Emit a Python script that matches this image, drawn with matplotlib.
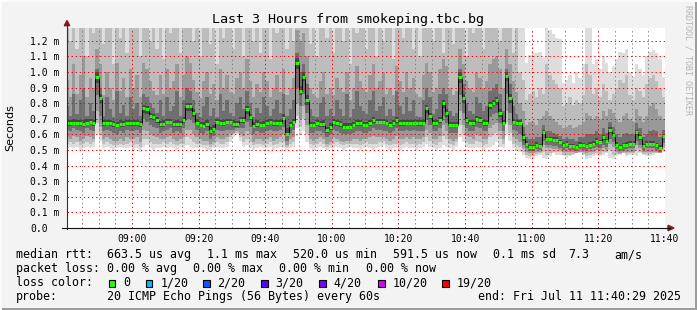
import numpy as np
import matplotlib
matplotlib.use('Agg')
import matplotlib.pyplot as plt
from matplotlib.patches import Rectangle, Polygon
from matplotlib.lines import Line2D

W, H = 697, 310
plt.rcParams['font.family'] = 'DejaVu Sans Mono'

# median rtt (ms), one value per minute from 08:40 to 11:40
median = [
    0.67, 0.67, 0.675, 0.675, 0.67, 0.665, 0.675, 0.68, 0.67, 0.97,
    0.83, 0.67, 0.675, 0.67, 0.665, 0.66, 0.665, 0.665, 0.67, 0.67,
    0.67, 0.67, 0.665, 0.77, 0.76, 0.72, 0.71, 0.69, 0.665, 0.665,
    0.68, 0.68, 0.665, 0.665, 0.665, 0.69, 0.78, 0.78, 0.735, 0.675,
    0.66, 0.655, 0.665, 0.62, 0.635, 0.68, 0.675, 0.67, 0.68, 0.68,
    0.665, 0.665, 0.69, 0.69, 0.76, 0.71, 0.655, 0.668, 0.66, 0.66,
    0.67, 0.68, 0.67, 0.67, 0.675, 0.705, 0.605, 0.66, 0.68, 1.06,
    0.88, 0.97, 0.82, 0.66, 0.66, 0.67, 0.665, 0.665, 0.625, 0.645,
    0.68, 0.67, 0.665, 0.65, 0.65, 0.65, 0.66, 0.67, 0.67, 0.66,
    0.66, 0.67, 0.69, 0.68, 0.68, 0.68, 0.675, 0.66, 0.67, 0.69,
    0.67, 0.67, 0.675, 0.675, 0.675, 0.67, 0.67, 0.675, 0.77, 0.72,
    0.67, 0.67, 0.69, 0.80, 0.735, 0.66, 0.66, 0.66, 0.97, 0.83,
    0.69, 0.675, 0.67, 0.70, 0.69, 0.67, 0.67, 0.785, 0.80, 0.82,
    0.735, 0.675, 0.975, 0.835, 0.68, 0.67, 0.675, 0.58, 0.54, 0.52,
    0.52, 0.535, 0.525, 0.615, 0.57, 0.57, 0.565, 0.565, 0.55, 0.53,
    0.54, 0.525, 0.525, 0.52, 0.535, 0.53, 0.525, 0.535, 0.54, 0.56,
    0.55, 0.58, 0.555, 0.627, 0.595, 0.535, 0.52, 0.53, 0.535, 0.54,
    0.54, 0.612, 0.58, 0.525, 0.54, 0.54, 0.54, 0.53, 0.515, 0.59,
]

# smoke: sorted ping positions, outer pair (lo1/hi1) to inner pair (lo5/hi5)
lo1 = [
    0.51, 0.52, 0.51, 0.52, 0.50, 0.51, 0.52, 0.51, 0.52, 0.60,
    0.56, 0.51, 0.52, 0.51, 0.50, 0.51, 0.52, 0.51, 0.51, 0.52,
    0.50, 0.51, 0.49, 0.52, 0.53, 0.51, 0.50, 0.51, 0.51, 0.52,
    0.51, 0.52, 0.51, 0.50, 0.52, 0.51, 0.53, 0.52, 0.51, 0.51,
    0.52, 0.51, 0.50, 0.50, 0.51, 0.52, 0.51, 0.51, 0.52, 0.55,
    0.58, 0.60, 0.56, 0.52, 0.53, 0.51, 0.50, 0.51, 0.52, 0.51,
    0.51, 0.52, 0.50, 0.51, 0.52, 0.51, 0.50, 0.51, 0.52, 0.64,
    0.60, 0.62, 0.55, 0.51, 0.50, 0.51, 0.52, 0.51, 0.50, 0.51,
    0.51, 0.52, 0.51, 0.50, 0.51, 0.52, 0.51, 0.51, 0.50, 0.51,
    0.52, 0.51, 0.50, 0.51, 0.52, 0.53, 0.51, 0.50, 0.51, 0.51,
    0.50, 0.51, 0.52, 0.51, 0.51, 0.50, 0.51, 0.52, 0.54, 0.52,
    0.51, 0.50, 0.51, 0.53, 0.52, 0.51, 0.50, 0.52, 0.58, 0.55,
    0.52, 0.51, 0.51, 0.52, 0.51, 0.50, 0.51, 0.52, 0.53, 0.55,
    0.52, 0.51, 0.60, 0.56, 0.51, 0.50, 0.49, 0.47, 0.45, 0.44,
    0.44, 0.46, 0.47, 0.45, 0.44, 0.46, 0.48, 0.47, 0.47, 0.46,
    0.45, 0.46, 0.47, 0.48, 0.48, 0.47, 0.44, 0.45, 0.46, 0.47,
    0.46, 0.47, 0.48, 0.45, 0.44, 0.46, 0.47, 0.48, 0.46, 0.47,
    0.47, 0.46, 0.48, 0.47, 0.46, 0.46, 0.47, 0.48, 0.48, 0.49,
]
lo2 = [
    0.54, 0.55, 0.54, 0.55, 0.53, 0.54, 0.55, 0.54, 0.55, 0.67,
    0.60, 0.54, 0.55, 0.54, 0.53, 0.53, 0.54, 0.53, 0.54, 0.55,
    0.53, 0.54, 0.52, 0.57, 0.57, 0.55, 0.54, 0.54, 0.54, 0.55,
    0.54, 0.55, 0.54, 0.53, 0.54, 0.54, 0.58, 0.57, 0.55, 0.54,
    0.54, 0.53, 0.53, 0.52, 0.53, 0.55, 0.54, 0.54, 0.55, 0.58,
    0.60, 0.61, 0.58, 0.55, 0.57, 0.55, 0.53, 0.54, 0.54, 0.53,
    0.54, 0.55, 0.53, 0.54, 0.55, 0.55, 0.52, 0.54, 0.55, 0.72,
    0.65, 0.70, 0.60, 0.54, 0.53, 0.54, 0.55, 0.54, 0.52, 0.53,
    0.54, 0.55, 0.54, 0.53, 0.54, 0.54, 0.54, 0.54, 0.53, 0.54,
    0.55, 0.54, 0.54, 0.54, 0.55, 0.56, 0.54, 0.53, 0.54, 0.54,
    0.53, 0.54, 0.55, 0.54, 0.54, 0.53, 0.54, 0.55, 0.58, 0.56,
    0.54, 0.53, 0.55, 0.59, 0.57, 0.54, 0.53, 0.55, 0.66, 0.60,
    0.55, 0.54, 0.54, 0.56, 0.55, 0.53, 0.54, 0.58, 0.60, 0.61,
    0.57, 0.54, 0.67, 0.61, 0.54, 0.53, 0.52, 0.49, 0.47, 0.46,
    0.46, 0.475, 0.48, 0.49, 0.47, 0.48, 0.49, 0.485, 0.485, 0.47,
    0.47, 0.47, 0.475, 0.48, 0.485, 0.475, 0.46, 0.47, 0.475, 0.48,
    0.475, 0.49, 0.49, 0.50, 0.47, 0.475, 0.475, 0.48, 0.475, 0.48,
    0.48, 0.50, 0.49, 0.475, 0.475, 0.475, 0.48, 0.48, 0.48, 0.50,
]
lo3 = [
    0.58, 0.57, 0.59, 0.58, 0.56, 0.57, 0.59, 0.58, 0.57, 0.75,
    0.65, 0.57, 0.58, 0.57, 0.56, 0.56, 0.57, 0.56, 0.58, 0.57,
    0.57, 0.58, 0.55, 0.63, 0.62, 0.60, 0.59, 0.58, 0.57, 0.57,
    0.58, 0.59, 0.57, 0.56, 0.57, 0.58, 0.63, 0.63, 0.60, 0.58,
    0.57, 0.56, 0.56, 0.54, 0.55, 0.58, 0.57, 0.57, 0.58, 0.60,
    0.61, 0.62, 0.60, 0.59, 0.62, 0.60, 0.55, 0.57, 0.57, 0.56,
    0.57, 0.58, 0.56, 0.57, 0.58, 0.60, 0.53, 0.57, 0.58, 0.80,
    0.70, 0.78, 0.66, 0.57, 0.56, 0.57, 0.58, 0.57, 0.54, 0.55,
    0.58, 0.57, 0.56, 0.55, 0.56, 0.56, 0.57, 0.57, 0.56, 0.57,
    0.57, 0.58, 0.59, 0.58, 0.58, 0.58, 0.57, 0.56, 0.57, 0.59,
    0.57, 0.57, 0.58, 0.57, 0.58, 0.57, 0.57, 0.58, 0.63, 0.61,
    0.57, 0.57, 0.59, 0.66, 0.62, 0.57, 0.56, 0.57, 0.75, 0.66,
    0.59, 0.58, 0.57, 0.60, 0.59, 0.57, 0.57, 0.64, 0.66, 0.67,
    0.62, 0.57, 0.75, 0.66, 0.58, 0.57, 0.55, 0.51, 0.49, 0.48,
    0.48, 0.49, 0.49, 0.53, 0.51, 0.51, 0.505, 0.505, 0.50, 0.485,
    0.49, 0.485, 0.485, 0.48, 0.49, 0.485, 0.48, 0.49, 0.49, 0.50,
    0.495, 0.51, 0.50, 0.54, 0.52, 0.49, 0.48, 0.485, 0.49, 0.49,
    0.49, 0.53, 0.51, 0.485, 0.49, 0.49, 0.49, 0.485, 0.48, 0.52,
]
lo4 = [
    0.63, 0.62, 0.64, 0.63, 0.62, 0.61, 0.64, 0.63, 0.62, 0.85,
    0.72, 0.62, 0.63, 0.62, 0.61, 0.60, 0.62, 0.61, 0.63, 0.62,
    0.62, 0.63, 0.61, 0.70, 0.68, 0.66, 0.65, 0.64, 0.61, 0.62,
    0.63, 0.64, 0.61, 0.62, 0.61, 0.64, 0.70, 0.70, 0.67, 0.63,
    0.61, 0.60, 0.62, 0.57, 0.59, 0.63, 0.62, 0.62, 0.63, 0.63,
    0.63, 0.64, 0.64, 0.64, 0.68, 0.65, 0.60, 0.62, 0.61, 0.61,
    0.62, 0.63, 0.62, 0.62, 0.63, 0.65, 0.56, 0.61, 0.63, 0.90,
    0.78, 0.86, 0.74, 0.61, 0.61, 0.62, 0.62, 0.61, 0.58, 0.60,
    0.63, 0.62, 0.61, 0.60, 0.60, 0.60, 0.61, 0.62, 0.62, 0.61,
    0.61, 0.62, 0.64, 0.63, 0.63, 0.62, 0.62, 0.61, 0.62, 0.64,
    0.62, 0.62, 0.63, 0.62, 0.63, 0.62, 0.62, 0.62, 0.69, 0.66,
    0.62, 0.62, 0.64, 0.72, 0.67, 0.61, 0.61, 0.61, 0.85, 0.74,
    0.64, 0.62, 0.62, 0.65, 0.64, 0.62, 0.62, 0.71, 0.73, 0.74,
    0.67, 0.62, 0.86, 0.74, 0.63, 0.62, 0.60, 0.53, 0.51, 0.495,
    0.495, 0.505, 0.50, 0.56, 0.53, 0.53, 0.525, 0.525, 0.515, 0.50,
    0.51, 0.50, 0.50, 0.495, 0.505, 0.50, 0.495, 0.505, 0.51, 0.52,
    0.515, 0.535, 0.52, 0.57, 0.55, 0.505, 0.495, 0.50, 0.505, 0.51,
    0.51, 0.56, 0.535, 0.50, 0.51, 0.51, 0.51, 0.50, 0.49, 0.545,
]
lo5 = [
    0.655, 0.655, 0.66, 0.66, 0.655, 0.65, 0.66, 0.665, 0.655, 0.93,
    0.80, 0.655, 0.66, 0.655, 0.65, 0.645, 0.65, 0.65, 0.655, 0.655,
    0.655, 0.655, 0.65, 0.74, 0.73, 0.70, 0.69, 0.675, 0.65, 0.65,
    0.665, 0.665, 0.65, 0.65, 0.65, 0.675, 0.75, 0.75, 0.71, 0.66,
    0.645, 0.64, 0.65, 0.60, 0.615, 0.665, 0.66, 0.655, 0.665, 0.665,
    0.65, 0.65, 0.675, 0.675, 0.73, 0.69, 0.64, 0.65, 0.645, 0.645,
    0.655, 0.665, 0.655, 0.655, 0.66, 0.69, 0.59, 0.645, 0.665, 1.02,
    0.85, 0.94, 0.79, 0.645, 0.645, 0.655, 0.65, 0.65, 0.61, 0.63,
    0.665, 0.655, 0.65, 0.635, 0.635, 0.635, 0.645, 0.655, 0.655, 0.645,
    0.645, 0.655, 0.675, 0.665, 0.665, 0.665, 0.66, 0.645, 0.655, 0.675,
    0.655, 0.655, 0.66, 0.66, 0.66, 0.655, 0.655, 0.66, 0.74, 0.70,
    0.655, 0.655, 0.675, 0.77, 0.71, 0.645, 0.645, 0.645, 0.93, 0.80,
    0.675, 0.66, 0.655, 0.685, 0.675, 0.655, 0.655, 0.76, 0.78, 0.79,
    0.71, 0.66, 0.94, 0.80, 0.665, 0.655, 0.66, 0.56, 0.53, 0.51,
    0.51, 0.525, 0.515, 0.60, 0.555, 0.555, 0.55, 0.55, 0.54, 0.52,
    0.53, 0.515, 0.515, 0.51, 0.525, 0.52, 0.515, 0.525, 0.53, 0.545,
    0.54, 0.565, 0.545, 0.61, 0.58, 0.525, 0.51, 0.52, 0.525, 0.53,
    0.53, 0.595, 0.565, 0.515, 0.53, 0.53, 0.53, 0.52, 0.505, 0.575,
]
hi5 = [
    0.695, 0.69, 0.70, 0.695, 0.69, 0.69, 0.70, 0.70, 0.69, 1.0,
    0.86, 0.69, 0.695, 0.69, 0.685, 0.68, 0.69, 0.685, 0.69, 0.695,
    0.69, 0.69, 0.685, 0.79, 0.78, 0.74, 0.73, 0.71, 0.685, 0.69,
    0.70, 0.70, 0.685, 0.69, 0.685, 0.71, 0.80, 0.80, 0.76, 0.70,
    0.68, 0.68, 0.69, 0.65, 0.66, 0.70, 0.695, 0.69, 0.70, 0.70,
    0.69, 0.685, 0.71, 0.71, 0.78, 0.73, 0.68, 0.69, 0.68, 0.685,
    0.69, 0.70, 0.69, 0.69, 0.695, 0.73, 0.64, 0.68, 0.70, 1.09,
    0.91, 1.0, 0.85, 0.68, 0.68, 0.69, 0.685, 0.69, 0.65, 0.67,
    0.70, 0.69, 0.685, 0.67, 0.67, 0.67, 0.68, 0.69, 0.69, 0.68,
    0.68, 0.69, 0.71, 0.70, 0.70, 0.70, 0.695, 0.68, 0.69, 0.71,
    0.69, 0.69, 0.695, 0.695, 0.695, 0.69, 0.69, 0.695, 0.79, 0.74,
    0.69, 0.69, 0.71, 0.82, 0.76, 0.68, 0.68, 0.68, 1.0, 0.86,
    0.71, 0.695, 0.69, 0.72, 0.71, 0.69, 0.69, 0.81, 0.82, 0.84,
    0.76, 0.695, 1.0, 0.86, 0.70, 0.69, 0.695, 0.60, 0.555, 0.535,
    0.535, 0.55, 0.54, 0.63, 0.585, 0.585, 0.58, 0.58, 0.565, 0.545,
    0.555, 0.54, 0.54, 0.535, 0.55, 0.545, 0.54, 0.55, 0.555, 0.575,
    0.565, 0.595, 0.57, 0.645, 0.61, 0.55, 0.535, 0.545, 0.55, 0.555,
    0.555, 0.63, 0.595, 0.54, 0.555, 0.555, 0.555, 0.545, 0.53, 0.605,
]
hi4 = [
    0.78, 0.72, 0.86, 0.73, 0.82, 0.90, 0.72, 0.80, 0.75, 1.02,
    0.90, 0.72, 0.84, 0.76, 0.71, 0.88, 0.74, 0.79, 0.72, 0.84,
    0.76, 0.80, 0.72, 0.86, 0.84, 0.80, 0.77, 0.74, 0.82, 0.72,
    0.84, 0.75, 0.78, 0.88, 0.72, 0.82, 0.90, 0.88, 0.82, 0.74,
    0.71, 0.78, 0.84, 0.72, 0.77, 0.71, 0.86, 0.75, 0.82, 0.74,
    0.72, 0.80, 0.84, 0.76, 0.88, 0.80, 0.71, 0.77, 0.74, 0.84,
    0.78, 0.72, 0.76, 0.82, 0.74, 0.86, 0.72, 0.76, 0.82, 1.12,
    1.00, 1.05, 0.92, 0.76, 0.72, 0.71, 0.80, 0.84, 0.72, 0.76,
    0.72, 0.82, 0.76, 0.72, 0.86, 0.71, 0.76, 0.88, 0.78, 0.75,
    0.73, 0.82, 0.88, 0.75, 0.78, 0.84, 0.72, 0.76, 0.72, 0.88,
    0.78, 0.73, 0.84, 0.75, 0.82, 0.72, 0.71, 0.82, 0.90, 0.84,
    0.73, 0.76, 0.86, 0.90, 0.86, 0.75, 0.72, 0.74, 1.02, 0.92,
    0.80, 0.75, 0.73, 0.84, 0.80, 0.75, 0.78, 0.88, 0.90, 0.92,
    0.86, 0.75, 1.02, 0.92, 0.78, 0.73, 0.70, 0.65, 0.58, 0.57,
    0.57, 0.58, 0.58, 0.66, 0.62, 0.62, 0.61, 0.60, 0.59, 0.57,
    0.58, 0.57, 0.57, 0.56, 0.58, 0.58, 0.60, 0.60, 0.60, 0.62,
    0.60, 0.64, 0.61, 0.68, 0.65, 0.60, 0.58, 0.60, 0.61, 0.60,
    0.60, 0.67, 0.64, 0.58, 0.60, 0.62, 0.63, 0.62, 0.58, 0.63,
]
hi3 = [
    0.95, 0.84, 1.05, 0.86, 0.98, 1.10, 0.84, 0.96, 0.90, 1.15,
    1.05, 0.85, 1.00, 0.90, 0.82, 1.06, 0.88, 0.96, 0.84, 1.02,
    0.90, 0.98, 0.84, 1.06, 1.02, 0.94, 0.88, 0.85, 0.98, 0.86,
    1.02, 0.90, 0.94, 1.05, 0.84, 0.98, 1.10, 1.06, 0.95, 0.87,
    0.83, 0.94, 1.00, 0.86, 0.92, 0.82, 1.02, 0.90, 0.98, 0.87,
    0.86, 0.96, 1.00, 0.90, 1.08, 0.94, 0.84, 0.92, 0.87, 1.00,
    0.94, 0.84, 0.90, 0.98, 0.87, 1.02, 0.85, 0.90, 0.96, 1.27,
    1.20, 1.25, 1.10, 0.90, 0.86, 0.83, 0.94, 1.00, 0.86, 0.90,
    0.85, 0.96, 0.90, 0.87, 1.00, 0.82, 0.90, 1.04, 0.94, 0.90,
    0.87, 0.98, 1.05, 0.90, 0.94, 1.00, 0.86, 0.90, 0.85, 1.04,
    0.94, 0.87, 1.00, 0.90, 0.96, 0.86, 0.84, 0.98, 1.06, 1.00,
    0.87, 0.90, 1.02, 1.08, 1.04, 0.90, 0.85, 0.88, 1.15, 1.05,
    0.94, 0.90, 0.87, 1.00, 0.96, 0.90, 0.94, 1.05, 1.08, 1.10,
    1.02, 0.90, 1.15, 1.05, 0.94, 0.87, 0.80, 0.75, 0.66, 0.68,
    0.68, 0.66, 0.70, 0.72, 0.75, 0.72, 0.70, 0.68, 0.66, 0.64,
    0.65, 0.66, 0.64, 0.65, 0.66, 0.68, 0.74, 0.72, 0.70, 0.72,
    0.70, 0.75, 0.72, 0.76, 0.74, 0.70, 0.68, 0.72, 0.74, 0.70,
    0.68, 0.76, 0.72, 0.68, 0.72, 0.78, 0.80, 0.76, 0.72, 0.70,
]
hi2 = [
    1.4, 1.2, 1.4, 1.15, 1.4, 1.4, 1.1, 1.4, 1.25, 1.4,
    1.4, 1.18, 1.4, 1.4, 1.05, 1.4, 1.22, 1.4, 1.12, 1.4,
    1.4, 1.4, 1.1, 1.4, 1.4, 1.2, 1.4, 1.15, 1.4, 1.08,
    1.4, 1.25, 1.4, 1.4, 1.12, 1.4, 1.4, 1.4, 1.2, 1.4,
    1.1, 1.4, 1.4, 1.18, 1.4, 1.05, 1.4, 1.22, 1.4, 1.4,
    1.15, 1.4, 1.4, 1.1, 1.4, 1.4, 1.2, 1.4, 1.12, 1.4,
    1.4, 1.08, 1.4, 1.25, 1.4, 1.4, 1.15, 1.4, 1.2, 1.4,
    1.4, 1.4, 1.4, 1.18, 1.4, 1.1, 1.4, 1.4, 1.22, 1.4,
    1.12, 1.4, 1.4, 1.2, 1.4, 1.05, 1.4, 1.25, 1.4, 1.4,
    1.15, 1.4, 1.4, 1.1, 1.4, 1.2, 1.4, 1.4, 1.08, 1.4,
    1.4, 1.22, 1.4, 1.4, 1.15, 1.4, 1.1, 1.4, 1.4, 1.4,
    1.2, 1.4, 1.4, 1.12, 1.4, 1.4, 1.18, 1.4, 1.4, 1.4,
    1.1, 1.4, 1.25, 1.4, 1.4, 1.15, 1.4, 1.4, 1.4, 1.4,
    1.2, 1.4, 1.4, 1.4, 1.12, 1.4, 1.0, 0.95, 0.82, 0.86,
    0.88, 0.84, 0.90, 0.86, 1.05, 0.98, 0.95, 0.92, 0.90, 0.78,
    0.80, 0.84, 0.79, 0.82, 0.80, 0.85, 1.05, 0.98, 0.86, 0.90,
    0.84, 0.92, 0.88, 0.82, 0.86, 0.90, 0.95, 0.93, 0.98, 0.85,
    0.82, 0.90, 0.88, 0.84, 0.92, 0.96, 0.98, 0.94, 0.90, 0.84,
]
hi1 = [1.4] * 137 + [
    1.40, 1.06, 1.11,
    1.12, 1.12, 1.13, 1.09, 1.40, 1.27, 1.24, 1.22, 1.21, 0.93,
    0.95, 0.98, 0.93, 1.00, 0.96, 1.05, 1.40, 1.28, 1.05, 1.08,
    1.02, 1.10, 1.06, 1.00, 1.04, 1.08, 1.13, 1.12, 1.15, 1.00,
    0.97, 1.05, 1.02, 0.98, 1.10, 1.13, 1.14, 1.12, 1.08, 0.97,
]

smoke_colors = ['#dddddd', '#bdbdbd', '#999999', '#6f6f6f', '#474747']
loss_labels = ['0', '1/20', '2/20', '3/20', '4/20', '10/20', '19/20']
loss_colors = ['#26ff00', '#00b8ff', '#0059ff', '#5e00ff', '#7e00ff', '#dd00ff', '#ff0000']
time_labels = ['09:00', '09:20', '09:40', '10:00', '10:20', '10:40', '11:00', '11:20', '11:40']


def fx(x):
    return x / W


def fy(y):
    return 1 - y / H


fig = plt.figure(figsize=(W / 100, H / 100), dpi=100, facecolor='#f3f3f3')
ax = fig.add_axes([fx(67), fy(228), 598 / W, 200 / H])
ax.set_facecolor('white')

t = np.arange(len(median) + 1)


def ext(a):
    return np.append(a, a[-1])


for lo, hi, c in zip([lo1, lo2, lo3, lo4, lo5], [hi1, hi2, hi3, hi4, hi5], smoke_colors):
    ax.fill_between(t, ext(lo), ext(hi), step='post', color=c, lw=0, zorder=1)

ax.step(t, ext(median), where='post', color='black', lw=0.7, zorder=3)
ax.hlines(median, t[:-1], t[1:], color=loss_colors[0], lw=2.2, zorder=4)

ax.set_xlim(0.5, 180)
ax.set_ylim(0, 1.2815)
ax.set_xticks(np.arange(20, 181, 20))
ax.set_xticklabels(time_labels)
ax.set_xticks(np.arange(5, 181, 5), minor=True)
yt = np.arange(0, 12.5) / 10
ax.set_yticks(yt)
ax.set_yticklabels(['0.0'] + ['%.1f m' % v for v in yt[1:]])
for lab in ax.get_yticklabels():
    lab.set_horizontalalignment('left')
ax.tick_params(axis='both', which='both', length=0, labelsize=7)
ax.tick_params(axis='y', pad=26.6)
ax.tick_params(axis='x', pad=4.5)
ax.set_axisbelow(False)
ax.grid(which='minor', axis='x', color=(0.5, 0.5, 0.5, 0.3), lw=0.7, ls=(0, (1.4, 2.8)))
ax.grid(which='major', color=(1, 0, 0, 0.22), lw=0.7, ls=(0, (1.4, 2.8)))
for s in ax.spines.values():
    s.set_visible(False)

# axis lines with arrows
fig.add_artist(Line2D([fx(67), fx(67)], [fy(229), fy(24)], color='#303030', lw=0.8))
fig.add_artist(Line2D([fx(62), fx(670)], [fy(228), fy(228)], color='#101010', lw=0.8))
fig.add_artist(Polygon([(fx(64.3), fy(25.7)), (fx(69.7), fy(25.7)), (fx(67), fy(20.5))],
                       closed=True, color='#8b1a1a', transform=fig.transFigure))
fig.add_artist(Polygon([(fx(668), fy(225.3)), (fx(668), fy(230.7)), (fx(674), fy(228))],
                       closed=True, color='#8b1a1a', transform=fig.transFigure))

fig.text(0.5, fy(19.5), 'Last 3 Hours from smokeping.tbc.bg', ha='center', va='center', fontsize=9.6)
fig.text(fx(10), fy(128), 'Seconds', rotation=90, ha='center', va='center', fontsize=8,
         family='DejaVu Sans')
fig.text(fx(688), fy(5), 'RRDTOOL / TOBI OETIKER', rotation=-90, ha='center', va='top',
         fontsize=6, color='#b4b4b4')

fs = 8.4
rows = [
    (258, [(16, 'median rtt:'), (107, '663.5 us avg'), (207, '1.1 ms max'), (293, '520.0 us min'),
           (393, '591.5 us now'), (493, '0.1 ms sd'), (568, '7.3'), (614, 'am/s')]),
    (272, [(16, 'packet loss:'), (107, '0.00 % avg'), (193, '0.00 % max'), (279, '0.00 % min'),
           (366, '0.00 % now')]),
    (300, [(16, 'probe:'), (107, '20 ICMP Echo Pings (56 Bytes) every 60s'),
           (478, 'end: Fri Jul 11 11:40:29 2025')]),
]
for y, items in rows:
    for x, s in items:
        fig.text(fx(x), fy(y), s, ha='left', va='baseline', fontsize=fs)

fig.text(fx(16), fy(286), 'loss color:', ha='left', va='baseline', fontsize=fs)
sq_x = [108.7, 145.7, 203, 261, 319, 378, 442]
for x, lab, c in zip(sq_x, loss_labels, loss_colors):
    fig.add_artist(Rectangle((fx(x), fy(286.5)), 6.6 / W, 7 / H, transform=fig.transFigure,
                             facecolor=c, edgecolor='black', lw=0.8))
    fig.text(fx(x + 14.5), fy(286), lab, ha='left', va='baseline', fontsize=fs)

# 3d frame
fig.add_artist(Rectangle((0, 0), 1, 2 / H, transform=fig.transFigure, color='#9c9c9c', lw=0))
fig.add_artist(Rectangle((1 - 2 / W, 0), 2 / W, 1, transform=fig.transFigure, color='#9c9c9c', lw=0))
fig.add_artist(Rectangle((0, 1 - 2 / H), 1, 2 / H, transform=fig.transFigure, color='#fbfbfb', lw=0))
fig.add_artist(Rectangle((0, 0), 2 / W, 1, transform=fig.transFigure, color='#fbfbfb', lw=0))

fig.savefig('out.png', dpi=100, facecolor=fig.get_facecolor())
